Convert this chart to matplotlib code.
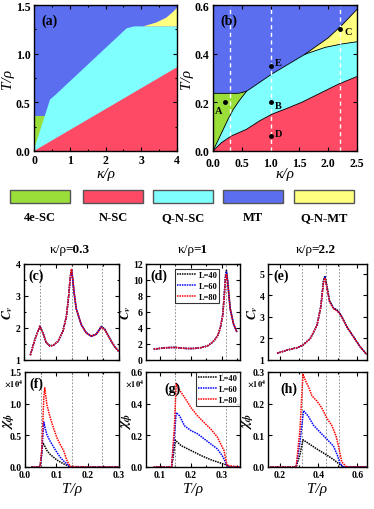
import numpy as np
import matplotlib
matplotlib.use('Agg')
import matplotlib.pyplot as plt
from matplotlib.patches import Rectangle, Polygon

plt.rcParams['font.family'] = ['Liberation Serif', 'DejaVu Serif']
plt.rcParams['font.weight'] = 'bold'
plt.rcParams['mathtext.fontset'] = 'stix'
plt.rcParams['axes.linewidth'] = 1.0

# phase colours
c_4esc = '#9ade3a'
c_nsc = '#ff4a66'
c_qnsc = '#80ffff'
c_mt = '#5b6ef0'
c_qnmt = '#ffff80'
phase_names = ['4e-SC', 'N-SC', 'Q-N-SC', 'MT', 'Q-N-MT']
phase_colors = [c_4esc, c_nsc, c_qnsc, c_mt, c_qnmt]

# ---- (a) boundaries
a_qnsc_x = [0.0, 0.03, 0.45, 0.58, 2.59, 2.80, 4.0]
a_qnsc_y = [0.0, 0.05, 0.53, 0.57, 1.26, 1.28, 1.28]
a_nsc_x = [0.0, 4.0]
a_nsc_y = [0.0, 0.86]
a_4esc_top = 0.36
a_qnmt_x = [3.05, 3.42, 3.7, 3.89, 4.0]
a_qnmt_y = [1.28, 1.32, 1.37, 1.43, 1.47]

# ---- (b) boundaries
b_nsc_x = [0, 0.145, 0.32, 0.58, 0.81, 1.02, 1.25, 1.54, 1.83, 2.18, 2.5]
b_nsc_y = [0, 0.034, 0.062, 0.089, 0.124, 0.151, 0.172, 0.2, 0.234, 0.275, 0.306]
b_gc_x = [0, 0.13, 0.26, 0.35, 0.45, 0.58]
b_gc_y = [0, 0.065, 0.13, 0.17, 0.205, 0.245]
b_gtop_x = [0, 0.44, 0.58]
b_gtop_y = [0.237, 0.237, 0.245]
b_cmt_x = [0.58, 1.02, 1.31, 1.6]
b_cmt_y = [0.245, 0.316, 0.357, 0.398]
b_cy_x = [1.6, 1.95, 2.24, 2.5]
b_cy_y = [0.398, 0.426, 0.44, 0.449]
b_ymt_x = [1.6, 2.0, 2.25, 2.5]
b_ymt_y = [0.398, 0.465, 0.52, 0.582]
b_cuts = [0.3, 1.0, 2.2]
pt_names = ['A', 'B', 'C', 'D', 'E']
pt_x = [0.2, 1.0, 2.2, 1.0, 1.0]
pt_y = [0.2, 0.2, 0.5, 0.06, 0.35]

# ---- specific heat
Tc = [0.02, 0.034, 0.05, 0.06, 0.07, 0.081, 0.092, 0.107, 0.123, 0.134, 0.141, 0.146, 0.150,
      0.154, 0.158, 0.165, 0.181, 0.197, 0.213, 0.228, 0.244, 0.255, 0.27, 0.286, 0.3]
cv_c40 = [1.15, 1.63, 2.06, 1.84, 1.55, 1.45, 1.46, 1.58, 1.9, 2.37, 3.0, 3.55, 3.8,
          3.5, 3.1, 2.6, 2.1, 1.85, 1.75, 1.81, 2.05, 1.97, 1.69, 1.42, 1.26]
cv_c60 = [1.15, 1.63, 2.05, 1.84, 1.55, 1.44, 1.45, 1.58, 1.9, 2.37, 3.0, 3.58, 3.83,
          3.52, 3.12, 2.6, 2.1, 1.84, 1.74, 1.8, 2.04, 1.96, 1.68, 1.42, 1.26]
cv_c80 = [1.15, 1.63, 2.05, 1.84, 1.55, 1.44, 1.45, 1.58, 1.9, 2.37, 3.0, 3.6, 3.85,
          3.55, 3.15, 2.6, 2.1, 1.84, 1.74, 1.8, 2.02, 1.95, 1.68, 1.42, 1.26]

Td = [0.08, 0.1, 0.117, 0.135, 0.15, 0.165, 0.181, 0.197, 0.213, 0.23, 0.245, 0.257,
      0.266, 0.278, 0.288, 0.296, 0.304, 0.309, 0.313, 0.316, 0.32, 0.328, 0.339, 0.35]
cv_d40 = [1.36, 1.45, 1.53, 1.56, 1.57, 1.52, 1.45, 1.43, 1.45, 1.52, 1.65, 1.82,
          2.07, 2.5, 3.1, 4.0, 5.6, 8.2, 10.6, 11.2, 9.9, 6.5, 4.5, 3.5]
cv_d60 = [1.36, 1.45, 1.53, 1.56, 1.57, 1.52, 1.45, 1.43, 1.45, 1.52, 1.65, 1.82,
          2.07, 2.5, 3.1, 4.0, 5.6, 8.1, 10.4, 11.0, 9.8, 6.4, 4.5, 3.5]
cv_d80 = [1.36, 1.45, 1.53, 1.56, 1.57, 1.52, 1.45, 1.43, 1.45, 1.52, 1.65, 1.82,
          2.07, 2.5, 3.1, 4.0, 5.6, 8.0, 10.2, 10.8, 9.7, 6.4, 4.5, 3.5]

Te = [0.187, 0.238, 0.289, 0.32, 0.358, 0.392, 0.412, 0.426, 0.433, 0.443, 0.457,
      0.477, 0.498, 0.515, 0.546, 0.58, 0.614, 0.648]
cv_e40 = [1.31, 1.46, 1.57, 1.69, 2.0, 2.6, 3.46, 4.7, 4.9, 4.45, 3.75, 3.42, 3.3,
          3.1, 2.55, 2.08, 1.62, 1.26]
cv_e60 = [1.31, 1.46, 1.57, 1.69, 2.0, 2.6, 3.46, 4.65, 4.85, 4.42, 3.72, 3.4, 3.28,
          3.09, 2.54, 2.08, 1.62, 1.26]
cv_e80 = [1.31, 1.46, 1.57, 1.69, 2.0, 2.6, 3.46, 4.6, 4.8, 4.38, 3.7, 3.38, 3.26,
          3.08, 2.54, 2.08, 1.62, 1.26]

# ---- susceptibility (x 10^4)
Tf40 = [0.02, 0.048, 0.052, 0.057, 0.063, 0.07, 0.08, 0.092, 0.102, 0.113, 0.124, 0.134, 0.144, 0.2, 0.3]
chi_f40 = [0, 0, 0.15, 0.385, 0.33, 0.26, 0.2, 0.15, 0.11, 0.077, 0.048, 0.026, 0.0, 0, 0]
Tf60 = [0.02, 0.048, 0.053, 0.06, 0.065, 0.07, 0.081, 0.092, 0.102, 0.113, 0.124, 0.134, 0.142, 0.2, 0.3]
chi_f60 = [0, 0, 0.2, 0.71, 0.6, 0.51, 0.4, 0.31, 0.23, 0.15, 0.09, 0.05, 0.0, 0, 0]
Tf80 = [0.02, 0.048, 0.054, 0.06, 0.063, 0.07, 0.081, 0.092, 0.102, 0.113, 0.123, 0.134, 0.144, 0.2, 0.3]
chi_f80 = [0, 0, 0.3, 1.1, 1.25, 0.98, 0.77, 0.6, 0.46, 0.35, 0.26, 0.1, 0.01, 0, 0]

Tg40 = [0.08, 0.138, 0.145, 0.15, 0.169, 0.201, 0.233, 0.265, 0.297, 0.313, 0.324, 0.36]
chi_g40 = [0, 0, 0.09, 0.17, 0.135, 0.104, 0.073, 0.046, 0.025, 0.015, 0, 0]
Tg60 = [0.08, 0.138, 0.146, 0.153, 0.164, 0.18, 0.201, 0.222, 0.244, 0.265, 0.286, 0.302, 0.313, 0.32, 0.36]
chi_g60 = [0, 0, 0.17, 0.344, 0.323, 0.26, 0.23, 0.21, 0.177, 0.146, 0.115, 0.073, 0.031, 0, 0]
Tg80 = [0.08, 0.138, 0.147, 0.153, 0.159, 0.18, 0.201, 0.222, 0.244, 0.265, 0.286, 0.308, 0.318, 0.36]
chi_g80 = [0, 0, 0.25, 0.527, 0.5, 0.44, 0.375, 0.323, 0.28, 0.24, 0.19, 0.104, 0.01, 0]

Th40 = [0.15, 0.285, 0.305, 0.32, 0.357, 0.391, 0.426, 0.46, 0.485, 0.503, 0.528, 0.65]
chi_h40 = [0, 0, 0.04, 0.086, 0.071, 0.057, 0.044, 0.031, 0.02, 0.011, 0, 0]
Th60 = [0.15, 0.285, 0.305, 0.323, 0.349, 0.374, 0.408, 0.443, 0.477, 0.497, 0.511, 0.528, 0.65]
chi_h60 = [0, 0, 0.08, 0.178, 0.159, 0.132, 0.11, 0.088, 0.066, 0.038, 0.011, 0, 0]
Th80 = [0.15, 0.285, 0.305, 0.32, 0.335, 0.349, 0.366, 0.391, 0.417, 0.443, 0.468, 0.49, 0.503, 0.52, 0.545, 0.65]
chi_h80 = [0, 0, 0.12, 0.294, 0.27, 0.253, 0.225, 0.209, 0.187, 0.154, 0.132, 0.099, 0.066, 0.016, 0, 0]

sizes = ['L=40', 'L=60', 'L=80']
line_colors = ['black', 'blue', 'red']
col_titles = ['0.3', '1', '2.2']
col_title_x = [67, 195, 313]
vlines_c = [0.05, 0.15, 0.245]
vlines_d = [0.15, 0.315]
vlines_e = [0.315, 0.44, 0.505]

W, H = 374, 510
fig = plt.figure(figsize=(W / 100, H / 100), dpi=100)


def px_axes(l, t, r, b):
    return fig.add_axes([l / W, 1 - b / H, (r - l) / W, (b - t) / H])


def style(ax, size=7):
    ax.tick_params(direction='in', which='both', top=True, right=True,
                   labelsize=size, width=0.8, length=3, pad=2.5)
    ax.tick_params(which='minor', length=1.6)


def tlabel(ax, s, x, y, size=10):
    ax.text(x, y, s, transform=ax.transAxes, fontsize=size, fontweight='bold',
            ha='left', va='top')


# ================= (a)
ax = px_axes(34, 6, 177, 152)
ax.set_facecolor(c_mt)
ax.add_patch(Rectangle((0, 0), 0.4, a_4esc_top, color=c_4esc, lw=0))
ax.add_patch(Polygon(list(zip(a_qnsc_x, a_qnsc_y)) + [(4, 0)], closed=True, color=c_qnsc, lw=0))
ax.add_patch(Polygon(list(zip(a_nsc_x, a_nsc_y)) + [(4, 0)], closed=True, color=c_nsc, lw=0))
ax.add_patch(Polygon(list(zip(a_qnmt_x, a_qnmt_y)) + [(4, 1.28)], closed=True, color=c_qnmt, lw=0))
ax.set_xlim(0, 4)
ax.set_ylim(0, 1.5)
ax.set_xticks([0, 1, 2, 3, 4])
ax.set_yticks([0, 0.5, 1.0, 1.5])
ax.set_yticklabels(['0.0', '0.5', '1.0', '1.5'])
ax.set_xticks([0.5, 1.5, 2.5, 3.5], minor=True)
ax.set_yticks([0.25, 0.75, 1.25], minor=True)
style(ax, 8.5)
ax.set_ylabel('T/ρ', fontsize=11, fontstyle='italic', labelpad=1)
ax.set_xlabel('κ/ρ', fontsize=11, fontstyle='italic')
ax.xaxis.set_label_coords(0.5, -0.11)
tlabel(ax, '(a)', 0.05, 0.94, 10)

# ================= (b)
ax = px_axes(213, 6, 357, 152)
ax.set_facecolor(c_mt)
ax.add_patch(Polygon(list(zip(b_ymt_x, b_ymt_y)) + list(zip(b_cy_x, b_cy_y))[::-1],
                     closed=True, color=c_qnmt, lw=0))
ax.add_patch(Polygon(list(zip(b_gc_x, b_gc_y)) + list(zip(b_cmt_x, b_cmt_y)) +
                     list(zip(b_cy_x, b_cy_y)) + [(2.5, 0)], closed=True, color=c_qnsc, lw=0))
ax.add_patch(Polygon(list(zip(b_gtop_x, b_gtop_y)) + list(zip(b_gc_x, b_gc_y))[::-1],
                     closed=True, color=c_4esc, lw=0))
ax.add_patch(Polygon(list(zip(b_nsc_x, b_nsc_y)) + [(2.5, 0)], closed=True, color=c_nsc, lw=0))
for bx, by in [(b_nsc_x, b_nsc_y), (b_gc_x, b_gc_y), (b_gtop_x, b_gtop_y),
               (b_cmt_x, b_cmt_y), (b_cy_x, b_cy_y), (b_ymt_x, b_ymt_y)]:
    ax.plot(bx, by, color='black', lw=0.6)
for xc in b_cuts:
    ax.axvline(xc, color='white', lw=1.0, ls=(0, (3, 2.5)))
ax.plot(pt_x, pt_y, 'o', color='black', ms=2.5, mfc='black')
lab_off = {'A': (-0.16, -0.035), 'B': (0.08, -0.012), 'C': (0.08, -0.01),
           'D': (0.08, 0.01), 'E': (0.08, 0.015)}
for n, x, y in zip(pt_names, pt_x, pt_y):
    dx, dy = lab_off[n]
    ax.text(x + dx, y + dy, n, fontsize=7.5, fontweight='bold', va='center')
ax.set_xlim(0, 2.5)
ax.set_ylim(0, 0.6)
ax.set_xticks([0, 0.5, 1.0, 1.5, 2.0, 2.5])
ax.set_xticklabels(['0.0', '0.5', '1.0', '1.5', '2.0', '2.5'])
ax.set_yticks([0, 0.2, 0.4, 0.6])
ax.set_yticklabels(['0.0', '0.2', '0.4', '0.6'])
style(ax, 8.5)
ax.tick_params(axis='x', pad=4)
ax.set_ylabel('T/ρ', fontsize=11, fontstyle='italic', labelpad=1)
ax.set_xlabel('κ/ρ', fontsize=11, fontstyle='italic')
ax.xaxis.set_label_coords(0.5, -0.11)
tlabel(ax, '(b)', 0.05, 0.94, 10)

# ================= phase legend strip
box_left = [10, 83, 153, 223, 294]
for name, col, bl in zip(phase_names, phase_colors, box_left):
    fig.add_artist(Rectangle((bl / W, 1 - 204 / H), 60 / W, 13 / H, transform=fig.transFigure,
                             facecolor=col, edgecolor='#555555', lw=1.0))
    fig.text((bl + 30) / W, 1 - 218 / H, name, fontsize=9, fontweight='bold',
             ha='center', va='center')

# ================= column titles
for t, xs in zip(col_titles, col_title_x):
    fig.text(xs / W, 1 - 250 / H, 'κ/ρ', fontsize=9.5, fontweight='normal', ha='right', va='center')
    fig.text((xs - 1.5) / W, 1 - 250 / H, '=' + t, fontsize=9.5, fontweight='bold', ha='left', va='center')


def curves(ax, data, vl):
    for xv in vl:
        ax.axvline(xv, color='gray', lw=0.6, ls=(0, (2, 2)))
    for (tx, yv), col, lab in zip(data, line_colors, sizes):
        ax.plot(tx, yv, color=col, lw=1.1, ls=(0, (1, 0.6)), label=lab)


def leg(ax, loc, anchor):
    lg = ax.legend(loc=loc, bbox_to_anchor=anchor, fontsize=6, frameon=True, fancybox=False,
                   edgecolor='black', handlelength=2.3, handletextpad=0.25, borderpad=0.25,
                   labelspacing=0.35, borderaxespad=0)
    lg.get_frame().set_linewidth(0.8)


def cv_axis(ax, xl=None):
    ax.set_ylabel(r'$C_v$', fontsize=9.5, labelpad=0)
    if xl is not None:
        ax.yaxis.set_label_coords(xl, 0.5)


def chi_axis(ax, xl):
    ax.set_ylabel(r'$\chi_\phi$', fontsize=10.5, labelpad=0)
    ax.yaxis.set_label_coords(xl, 0.5)
    ax.set_xlabel('T/ρ', fontsize=11, fontstyle='italic', labelpad=2)
    ax.text(-0.02, 0.89, r'$\times10^4$', transform=ax.transAxes, fontsize=6, ha='right', va='center')


# ================= (c)
ax = px_axes(24, 265, 119, 361)
curves(ax, [(Tc, cv_c40), (Tc, cv_c60), (Tc, cv_c80)], vlines_c)
ax.set_xlim(0, 0.3)
ax.set_ylim(1, 4)
ax.set_yticks([1, 2, 3, 4])
ax.set_xticks([0, 0.1, 0.2, 0.3])
ax.set_xticks([0.05, 0.15, 0.25], minor=True)
ax.set_yticks([1.5, 2.5, 3.5], minor=True)
ax.set_xticklabels([])
style(ax)
cv_axis(ax, -0.09)
tlabel(ax, '(c)', 0.05, 0.95, 10)

# ================= (d)
ax = px_axes(146, 265, 240, 361)
curves(ax, [(Td, cv_d40), (Td, cv_d60), (Td, cv_d80)], vlines_d)
ax.set_xlim(0.055, 0.36)
ax.set_ylim(0, 12)
ax.set_yticks([0, 2, 4, 6, 8, 10, 12])
ax.set_xticks([0.1, 0.2, 0.3])
ax.set_xticks([0.15, 0.25, 0.35], minor=True)
ax.set_xticklabels([])
style(ax)
cv_axis(ax)
tlabel(ax, '(d)', 0.05, 0.95, 10)
leg(ax, 'upper left', (0.31, 0.95))

# ================= (e)
ax = px_axes(268, 265, 367, 361)
curves(ax, [(Te, cv_e40), (Te, cv_e60), (Te, cv_e80)], vlines_e)
ax.set_xlim(0.14, 0.65)
ax.set_ylim(1, 5.45)
ax.set_yticks([1, 2, 3, 4, 5])
ax.set_xticks([0.2, 0.4, 0.6])
ax.set_xticks([0.3, 0.5], minor=True)
ax.set_xticklabels([])
style(ax)
cv_axis(ax)
tlabel(ax, '(e)', 0.05, 0.95, 10)

# ================= (f)
ax = px_axes(25, 373, 119, 468)
curves(ax, [(Tf40, chi_f40), (Tf60, chi_f60), (Tf80, chi_f80)], vlines_c)
ax.set_xlim(0, 0.3)
ax.set_ylim(0, 1.5)
ax.set_xticks([0, 0.1, 0.2, 0.3])
ax.set_xticklabels(['0.0', '0.1', '0.2', '0.3'])
ax.set_xticks([0.05, 0.15, 0.25], minor=True)
ax.set_yticks([0, 0.5, 1.0, 1.5])
ax.set_yticklabels(['0.0', '0.5', '1.0', '1.5'])
style(ax)
chi_axis(ax, -0.1)
tlabel(ax, '(f)', 0.05, 0.95, 10)

# ================= (g)
ax = px_axes(146, 373, 240, 468)
curves(ax, [(Tg40, chi_g40), (Tg60, chi_g60), (Tg80, chi_g80)], vlines_d)
ax.set_xlim(0.055, 0.36)
ax.set_ylim(0, 0.6)
ax.set_xticks([0.1, 0.2, 0.3])
ax.set_xticks([0.15, 0.25, 0.35], minor=True)
ax.set_yticks([0, 0.2, 0.4, 0.6])
ax.set_yticklabels(['0.0', '0.2', '0.4', '0.6'])
style(ax)
chi_axis(ax, -0.13)
tlabel(ax, '(g)', 0.2, 0.9, 10)
leg(ax, 'upper right', (1.0, 1.0))

# ================= (h)
ax = px_axes(268, 373, 367, 468)
curves(ax, [(Th40, chi_h40), (Th60, chi_h60), (Th80, chi_h80)], vlines_e)
ax.set_xlim(0.14, 0.65)
ax.set_ylim(0, 0.3)
ax.set_xticks([0.2, 0.4, 0.6])
ax.set_xticks([0.3, 0.5], minor=True)
ax.set_yticks([0, 0.1, 0.2, 0.3])
ax.set_yticklabels(['0.0', '0.1', '0.2', '0.3'])
style(ax)
chi_axis(ax, -0.13)
tlabel(ax, '(h)', 0.12, 0.9, 10)

fig.savefig('out.png', dpi=100)
